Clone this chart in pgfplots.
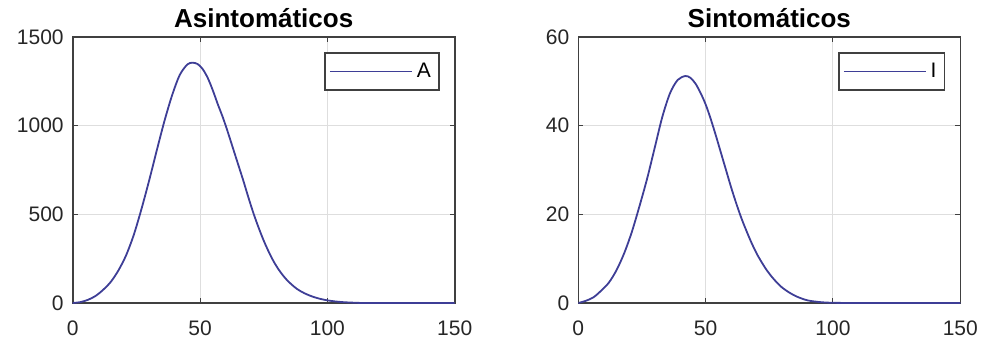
\documentclass[border=0pt]{standalone}
\usepackage{fontspec}
\setmainfont{Liberation Sans}
\usepackage{pgfplots}
\pgfplotsset{compat=1.18}
\definecolor{linec}{RGB}{62,62,150}
\definecolor{boxc}{RGB}{64,64,64}
\definecolor{gridc}{RGB}{222,222,222}
\definecolor{tickc}{RGB}{38,38,38}
\pgfplotsset{
  mystyle/.style={
    scale only axis,
    width=191pt, height=133pt,
    xmin=0, xmax=150,
    xtick={0,50,100,150},
    grid=major,
    major grid style={gridc, line width=0.5pt},
    axis line style={boxc, line width=0.8pt},
    tick align=inside,
    major tick length=2.5pt,
    tick style={boxc, line width=0.5pt},
    /pgf/number format/assume math mode=true,
    /pgf/number format/1000 sep={},
    tick label style={font=\fontsize{10.5}{12}\selectfont, text=tickc},
    xticklabel style={yshift=-5.5pt},
    yticklabel style={xshift=-1pt},
    every axis title/.style={font=\fontsize{13}{15}\selectfont\bfseries, at={(0.5,1)}, anchor=base, yshift=5pt},
    legend style={at={(1,1)}, anchor=north east, xshift=-7.5pt, yshift=-7.5pt,
      draw=boxc, line width=0.8pt, font=\fontsize{10.5}{12}\selectfont,
      inner xsep=2pt, inner ysep=3pt, row sep=0pt},
    legend cell align=left,
    legend image post style={draw=linec, line width=0.9pt},
  },
}
\pgfplotsset{legend image code/.code={\draw[#1] (0pt,0pt) -- (41pt,0pt);}}
\begin{document}
\begin{tikzpicture}
\useasboundingbox (0,0) rectangle (492.5pt,172pt);
\begin{axis}[mystyle, at={(36.35pt,20.5pt)}, anchor=south west,
  ymin=0, ymax=1500, ytick={0,500,1000,1500},
  title={Asintomáticos}]
\addplot[linec, line width=0.9pt, smooth] coordinates {
(0,0) (3,5) (6,18) (9,40) (12,75) (15,120) (18,185) (21,270) (24,385) (27,530)
(30,690) (33,860) (36,1025) (39,1170) (42,1285) (45,1345) (47,1355) (49,1348)
(51,1320) (53,1270) (55,1200) (57,1120) (59,1045) (61,960) (63,870) (65,780)
(67,690) (69,595) (71,505) (73,425) (75,352) (77,288) (79,232) (81,186) (83,148)
(85,117) (88,80) (91,55) (94,37) (97,24) (100,15) (103,9) (106,5) (110,2) (115,0)
(130,0) (150,0)};
\addlegendentry{A}
\end{axis}
\begin{axis}[mystyle, at={(289.15pt,20.5pt)}, anchor=south west,
  ymin=0, ymax=60, ytick={0,20,40,60},
  title={Sintomáticos}]
\addplot[linec, line width=0.9pt, smooth] coordinates {
(0,0) (3,0.5) (6,1.3) (9,2.8) (12,4.6) (15,7.4) (18,11.2) (21,16) (24,21.8)
(27,28) (30,35) (33,42) (36,47.3) (39,50.3) (42,51.2) (44,50.8) (46,49.5)
(48,47.4) (50,44.8) (52,41.5) (54,37.8) (56,33.9) (58,30) (60,26.1) (62,22.5)
(64,19.2) (66,16.3) (68,13.6) (70,11.2) (72,9.2) (74,7.4) (76,5.9) (78,4.6)
(80,3.5) (83,2.3) (86,1.4) (90,0.6) (95,0.2) (100,0.05) (110,0) (130,0) (150,0)};
\addlegendentry{I}
\end{axis}
\end{tikzpicture}
\end{document}
